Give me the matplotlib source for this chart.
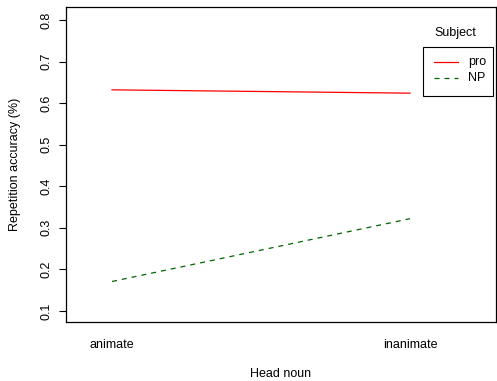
import matplotlib
matplotlib.use("Agg")
import matplotlib.pyplot as plt
from matplotlib.lines import Line2D
from matplotlib.patches import Rectangle

plt.rcParams['font.family'] = ['Liberation Sans', 'DejaVu Sans']

head_noun = ["animate", "inanimate"]
subjects = ["pro", "NP"]
pro_vals = [0.632, 0.624]
np_vals = [0.171, 0.322]
yticks = [0.1, 0.2, 0.3, 0.4, 0.5, 0.6, 0.7, 0.8]

FS = 9
W, H = 497, 381
fig = plt.figure(figsize=(W/100, H/100), dpi=100)
ax = fig.add_axes([66/W, 1-322/H, (496-66)/W, (322-7)/H])

x = [1, 2]
ax.plot(x, pro_vals, color="red", lw=0.9, ls="-")
ax.plot(x, np_vals, color="darkgreen", lw=0.9, ls=(0, (4, 4)))

ax.set_xlim(1 - 46/298, 2 + 86/298)
ax.set_ylim(0.1 - 11/415.7, 0.8 + 13/415.7)
ax.set_xticks(x)
ax.set_xticklabels(head_noun, fontsize=FS)
ax.tick_params(axis='x', length=0, pad=12)
ax.set_yticks(yticks)
ax.set_yticklabels([f"{v:.1f}" for v in yticks], fontsize=FS, rotation=90, va='center')
ax.tick_params(axis='y', length=5, width=0.8, pad=5)
for s in ax.spines.values():
    s.set_linewidth(0.9)
ax.set_xlabel("Head noun", fontsize=FS)
ax.xaxis.label.set_va('center')
ax.xaxis.set_label_coords(0.5, (7 - 59) / 315)
ax.set_ylabel("Repetition accuracy (%)", fontsize=FS)
ax.yaxis.label.set_va('center')
ax.yaxis.set_label_coords((15 - 66) / 430, 0.5)

# legend (R style: title above box)
fig.text(455/W, 1-33/H, "Subject", fontsize=FS, ha='center', va='center')
fig.patches.append(Rectangle((423/W, 1-96/H), 70/W, 49/H, transform=fig.transFigure,
                             fill=False, edgecolor='black', lw=0.8))
fig.lines.append(Line2D([434/W, 458/W], [1-62/H, 1-62/H], transform=fig.transFigure,
                        color='red', lw=0.9))
fig.lines.append(Line2D([434/W, 458/W], [1-78/H, 1-78/H], transform=fig.transFigure,
                        color='darkgreen', lw=0.9, ls=(0, (4, 4))))
fig.text(468/W, 1-62/H, subjects[0], fontsize=FS, ha='left', va='center')
fig.text(468/W, 1-78/H, subjects[1], fontsize=FS, ha='left', va='center')

fig.savefig("out.png", dpi=100)
